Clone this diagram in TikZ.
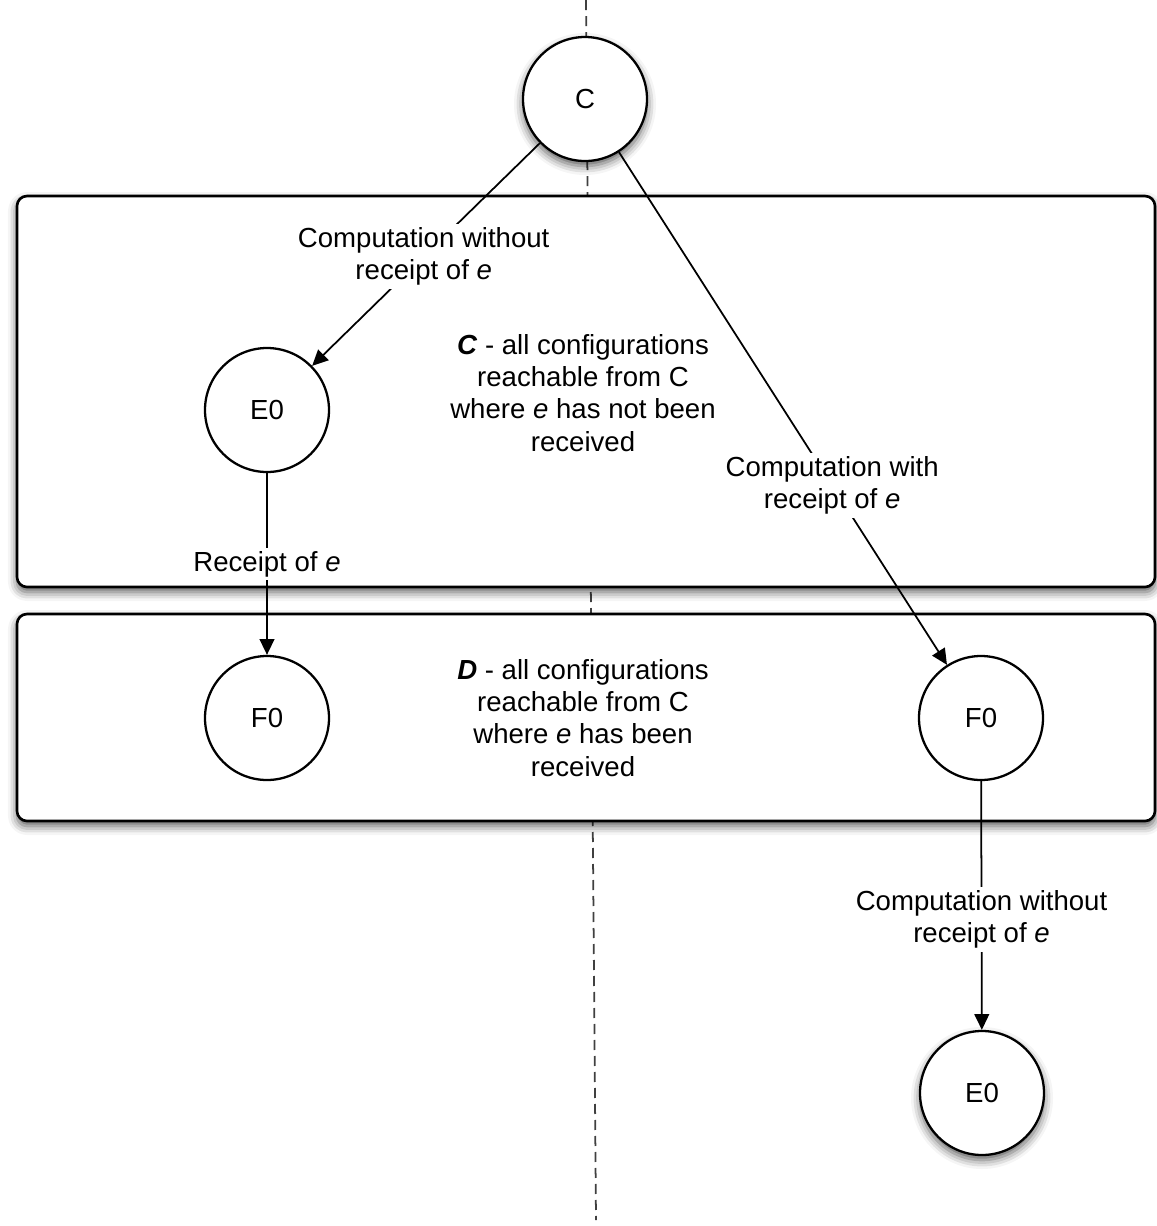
\documentclass[tikz,border=0pt]{standalone}
\usepackage{fontspec}
\setmainfont{Liberation Sans}
\usetikzlibrary{arrows.meta, shadows.blur}

\begin{document}
\begin{tikzpicture}[
    every node/.style={font=\fontsize{7.85}{9.15}\selectfont},
    state/.style={circle, draw, line width=0.65pt, fill=white, minimum size=1.24cm, inner sep=0pt},
    lifted/.style={blur shadow={shadow xshift=0pt, shadow yshift=-0.05cm, shadow blur radius=0.09cm, shadow opacity=65}},
    region/.style={draw, line width=0.75pt, fill=white, rounded corners=0.1cm, minimum width=11.38cm, inner sep=0pt},
    edgelabel/.style={fill=white, align=center, inner sep=1pt},
    trans/.style={-{Triangle[length=4.5pt, width=4.2pt]}, line width=0.5pt}
]
    \useasboundingbox (0,0) rectangle (11.57,-12.26);

    % Dividing line
    \coordinate (axtop) at (5.86,0);
    \coordinate (axbot) at (5.96,-12.2);
    \draw[line width=0.5pt, black!75, dash pattern=on 0.1cm off 0.06cm] (axtop) -- (axbot);

    % Regions
    \node[region, lifted, minimum height=3.91cm] (boxC) at (5.86,-3.915) {};
    \node[region, lifted, minimum height=2.07cm] (boxD) at (5.86,-7.175) {};
    \node[align=center] (descC) at (5.83,-3.93)
        {\textbf{\textit{C}} - all configurations\\reachable from C\\where \textit{e} has not been\\received};
    \node[align=center] (descD) at (5.83,-7.18)
        {\textbf{\textit{D}} - all configurations\\reachable from C\\where \textit{e} has been\\received};

    % States
    \node[state, lifted] (C) at (5.85,-0.99) {C};
    \node[state] (E0) at (2.67,-4.10) {E0};
    \node[state] (F0l) at (2.67,-7.18) {F0};
    \node[state] (F0r) at (9.81,-7.18) {F0};
    \node[state, lifted] (E0b) at (9.82,-10.93) {E0};

    % Transitions
    \draw[trans] (C) -- (E0)
          node[edgelabel, pos=0.51] (lblCE) {Computation without\\receipt of \textit{e}};
    \draw[trans] (C) -- (F0r)
          node[edgelabel, pos=0.65] (lblCF) {Computation with\\receipt of \textit{e}};
    \draw[trans] (E0) -- (F0l)
          node[edgelabel, midway] (lblEF) {Receipt of \textit{e}};
    \draw[trans] (F0r) -- (E0b)
          node[edgelabel, pos=0.555] (lblFE) {Computation without\\receipt of \textit{e}};
\end{tikzpicture}
\end{document}
